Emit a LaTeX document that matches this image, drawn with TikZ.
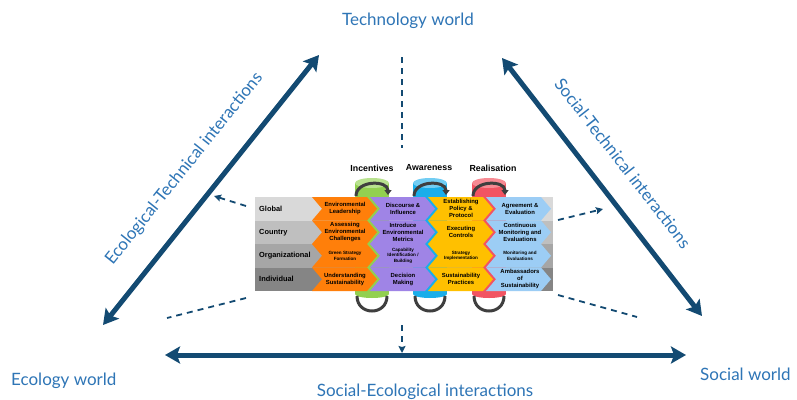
\documentclass[tikz,border=0pt]{standalone}
\usepackage{fontspec}
\setmainfont{Lato}
\newfontfamily\diagfont{Liberation Sans}
\usetikzlibrary{arrows.meta}

\definecolor{navy}{HTML}{134A72}
\definecolor{labelblue}{HTML}{2E75B6}
\definecolor{chevorange}{HTML}{FF7F0A}
\definecolor{chevpurple}{HTML}{9F84E6}
\definecolor{chevyellow}{HTML}{FFC000}
\definecolor{chevblue}{HTML}{9CCDF5}
\definecolor{cylgreen}{HTML}{92D050}
\definecolor{cylgreentop}{HTML}{B8E28E}
\definecolor{cylblue}{HTML}{1AAEEA}
\definecolor{cylbluetop}{HTML}{72CDF3}
\definecolor{cylred}{HTML}{F25462}
\definecolor{cylredtop}{HTML}{F78A93}
\definecolor{loopgray}{HTML}{3F3F3F}
\definecolor{band1}{HTML}{D9D9D9}
\definecolor{band2}{HTML}{BFBFBF}
\definecolor{band3}{HTML}{A6A6A6}
\definecolor{band4}{HTML}{858585}

% chevron: colour, left x, top y (rows are 23.5 high)
\newcommand\chevshape[3]{%
  \fill[#1] (#2,#3) -- ++(55,0) -- ++(10,11.75) -- ++(-10,11.75)
    -- ++(-55,0) -- ++(10,-11.75) -- cycle;}

% cylinder: body colour, top colour, centre x
\newcommand\cylshape[3]{%
  \fill[#1] (#3-17,183) rectangle (#3+17,294);
  \fill[#1] (#3,294) ellipse [x radius=17pt, y radius=4pt];
  \fill[#2] (#3,183) ellipse [x radius=17pt, y radius=5pt];}

\tikzset{
  worldlabel/.style={font=\fontsize{17}{20}\selectfont, text=labelblue, inner sep=0pt},
  bigarrow/.style={draw=navy, line width=5pt,
    {Stealth[length=15pt,width=17pt,inset=3pt]}-{Stealth[length=15pt,width=17pt,inset=3pt]}},
  dashlink/.style={draw=navy, line width=1.8pt, dash pattern=on 6pt off 5pt},
  dashtip/.style={-{Stealth[length=7pt,width=7pt,inset=1pt]}},
  chevtext/.style={font=\diagfont\bfseries\fontsize{5.9}{7}\selectfont, align=center, inner sep=0pt},
  smalltext/.style={font=\diagfont\bfseries\fontsize{4.6}{5.4}\selectfont, align=center, inner sep=0pt},
  rowtext/.style={font=\diagfont\bfseries\fontsize{7.4}{8}\selectfont, anchor=west, inner sep=0pt},
  headtext/.style={font=\diagfont\bfseries\fontsize{8.8}{10}\selectfont, inner sep=0pt},
  loop/.style={draw=loopgray, line width=3pt},
}

\begin{document}
\begin{tikzpicture}[x=1pt,y=-1pt]
\useasboundingbox (0,0) rectangle (797,399);
\fill[white] (0,0) rectangle (797,399);

% world labels
\node[worldlabel, anchor=base] (tech) at (408,25) {Technology world};
\node[worldlabel, anchor=base west] (eco) at (11,385) {Ecology world};
\node[worldlabel, anchor=base west] (soc) at (700,380) {Social world};

% interaction arrows
\coordinate (ETlow) at (103,325);
\coordinate (ETup) at (319,55);
\coordinate (STup) at (502,58);
\coordinate (STlow) at (702,316);
\coordinate (SEleft) at (165,355);
\coordinate (SEright) at (686,355);
\draw[bigarrow] (ETlow) -- (ETup);
\draw[bigarrow] (STup) -- (STlow);
\draw[bigarrow] (SEleft) -- (SEright);

\node[worldlabel, anchor=base, rotate=51.3] (etlabel) at (188,172) {Ecological-Technical interactions};
\node[worldlabel, anchor=base, rotate=-52.1] (stlabel) at (618,167) {Social-Technical interactions};
\node[worldlabel, anchor=base] (selabel) at (425,396) {Social-Ecological interactions};

% level bands
\fill[band1] (255,197) rectangle (553,220.5);
\fill[band2] (255,220.5) rectangle (553,244);
\fill[band3] (255,244) rectangle (553,267.5);
\fill[band4] (255,267.5) rectangle (553,291);

% cylinders behind the chevrons
\cylshape{cylgreen}{cylgreentop}{372}
\cylshape{cylblue}{cylbluetop}{430}
\cylshape{cylred}{cylredtop}{489}

% chevrons
\foreach \yy in {197,220.5,244,267.5} {
  \chevshape{chevorange}{312}{\yy}
  \chevshape{chevpurple}{370}{\yy}
  \chevshape{chevyellow}{428}{\yy}
  \chevshape{chevblue}{486}{\yy}
}

% row labels
\node[rowtext] (rglobal) at (259,208.75) {Global};
\node[rowtext] (rcountry) at (259,232.25) {Country};
\node[rowtext] (rorg) at (259,255.75) {Organizational};
\node[rowtext] (rind) at (259,279.25) {Individual};

% column headers
\node[headtext] (hinc) at (372,168) {Incentives};
\node[headtext] (hawa) at (429,168) {Awareness};
\node[headtext] (hrea) at (493,168) {Realisation};

% chevron texts
\node[chevtext] (c11) at (345,208.75) {Environmental\\Leadership};
\node[chevtext] (c12) at (403,208.75) {Discourse \&\\Influence};
\node[chevtext] (c13) at (461,208.75) {Establishing\\Policy \&\\Protocol};
\node[chevtext] (c14) at (520,208.75) {Agreement \&\\Evaluation};
\node[chevtext] (c21) at (345,232.25) {Assessing\\Environmental\\Challenges};
\node[chevtext] (c22) at (403,232.25) {Introduce\\Environmental\\Metrics};
\node[chevtext] (c23) at (461,232.25) {Executing\\Controls};
\node[chevtext] (c24) at (520,232.25) {Continuous\\Monitoring and\\Evaluations};
\node[smalltext] (c31) at (345,255.75) {Green Strategy\\Formation};
\node[smalltext] (c32) at (403,255.75) {Capability\\Identification /\\Building};
\node[smalltext] (c33) at (461,255.75) {Strategy\\Implementation};
\node[smalltext] (c34) at (520,255.75) {Monitoring and\\Evaluations};
\node[chevtext] (c41) at (345,279.25) {Understanding\\Sustainability};
\node[chevtext] (c42) at (403,279.25) {Decision\\Making};
\node[chevtext] (c43) at (461,279.25) {Sustainability\\Practices};
\node[chevtext] (c44) at (520,279.25) {Ambassadors\\of\\Sustainability};

% feedback loops over and under each cylinder
\foreach \cx in {372,430,489} {
  \draw[loop, -{Triangle[length=5pt,width=7pt]}] (\cx-16,196) .. controls (\cx-16,180) and (\cx+16,180) .. (\cx+16,195);
  \draw[loop] (\cx-15,296) .. controls (\cx-15,316) and (\cx+15,316) .. (\cx+15,296);
}

% dashed links from the framework to the interactions
\coordinate (topA) at (402,57);
\coordinate (topB) at (402,148);
\coordinate (botA) at (402,325);
\coordinate (botB) at (402,353);
\coordinate (luA) at (246,206);
\coordinate (luB) at (214,196);
\coordinate (llA) at (246,298);
\coordinate (llB) at (167,318);
\coordinate (ruA) at (558,220);
\coordinate (ruB) at (603,209);
\coordinate (rlA) at (558,295);
\coordinate (rlB) at (637,317);
\draw[dashlink] (topA) -- (topB);
\draw[dashlink, dashtip] (botA) -- (botB);
\draw[dashlink, dashtip] (luA) -- (luB);
\draw[dashlink] (llA) -- (llB);
\draw[dashlink, dashtip] (ruA) -- (ruB);
\draw[dashlink] (rlA) -- (rlB);
\end{tikzpicture}
\end{document}
